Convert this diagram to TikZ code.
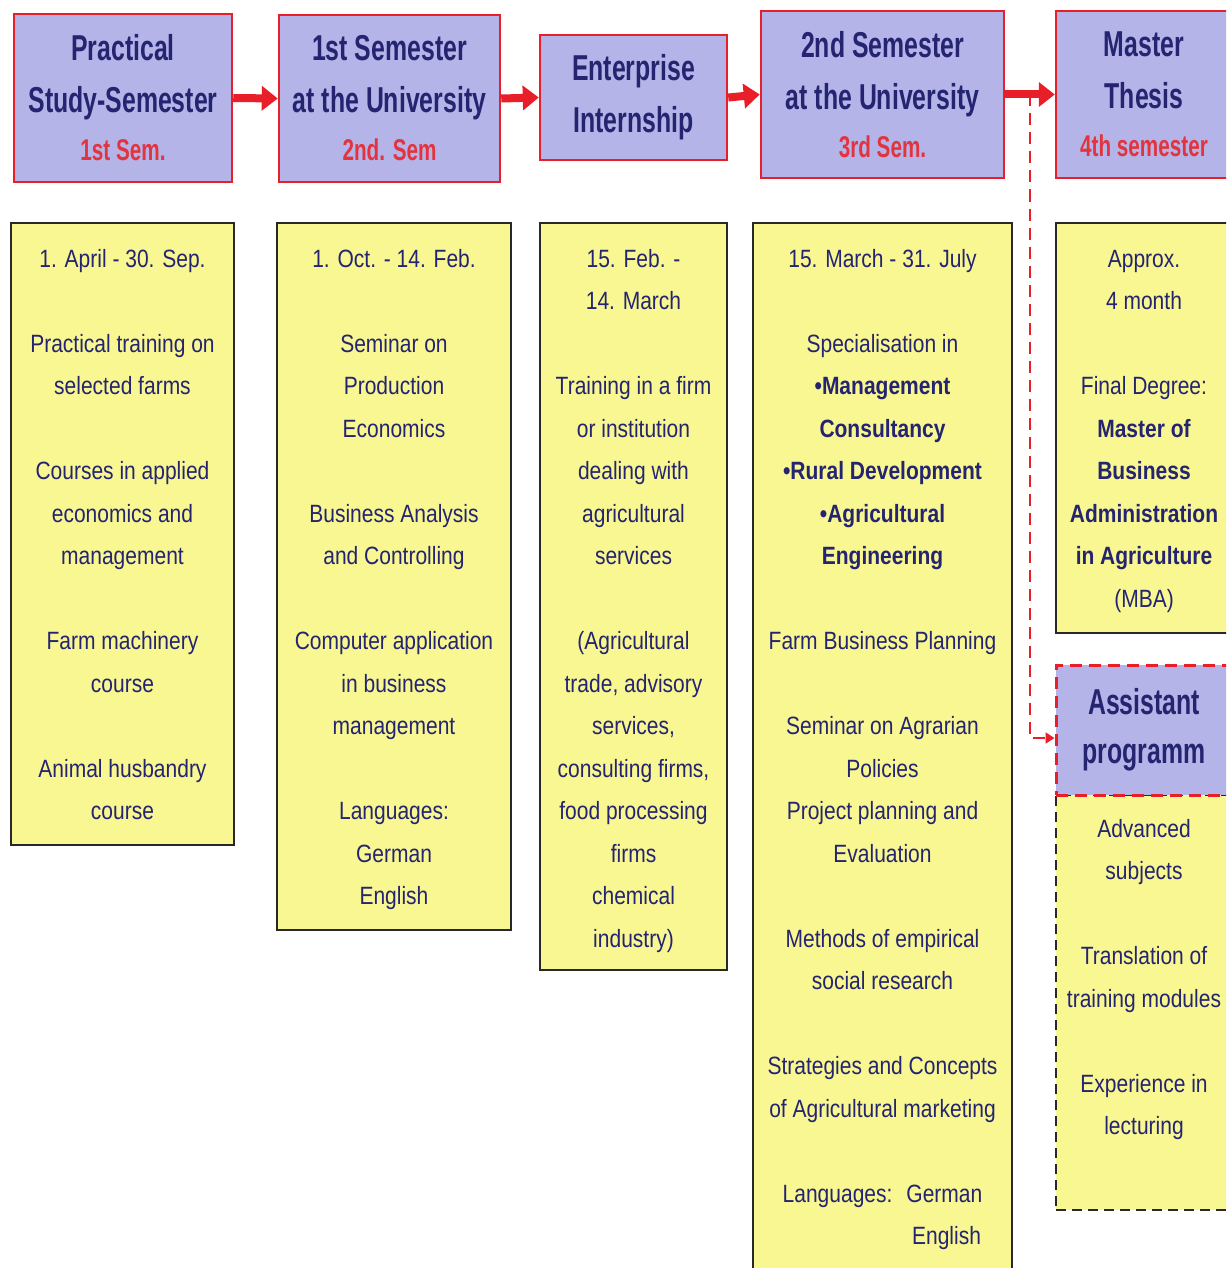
\documentclass[tikz,border=0pt]{standalone}
\usepackage{fontspec}
\setmainfont{Liberation Sans}
\newfontfamily\bodyfont{Liberation Sans}[FakeStretch=0.84]
\newfontfamily\headfont{Liberation Sans}[FakeStretch=0.69]
\usetikzlibrary{arrows.meta,calc}
\definecolor{lav}{RGB}{180,180,232}
\definecolor{yel}{RGB}{248,247,146}
\definecolor{hred}{RGB}{232,30,40}
\definecolor{navy}{RGB}{36,36,112}
\definecolor{subred}{RGB}{226,52,62}
\definecolor{bord}{RGB}{40,40,40}
\begin{document}
\begin{tikzpicture}[x=1pt,y=-1pt,
  hbox/.style={draw=hred, line width=2.5pt, fill=lav, inner sep=0pt, align=center, text=navy, font=\headfont\bfseries\fontsize{36}{52}\selectfont},
  ybox/.style={draw=bord, line width=2pt, fill=yel, inner sep=0pt},
  btxt/.style={anchor=base, inner sep=0pt, align=center, text=navy, font=\bodyfont\fontsize{25}{42.5}\selectfont},
  flow/.style={draw=hred, line width=8pt, -{Triangle[length=16pt,width=24pt]}},
  branchline/.style={draw=hred, line width=2pt, dash pattern=on 12pt off 7pt, -{Triangle[length=9pt,width=11pt]}}
]
\clip (0,0) rectangle (1226,1268);
\fill[white] (0,0) rectangle (1226,1268);

% yellow content boxes
\node[ybox, minimum width=223pt, minimum height=622pt] (y1) at (122.5,534) {};
\node[ybox, minimum width=234pt, minimum height=707pt] (y2) at (394,576.5) {};
\node[ybox, minimum width=187pt, minimum height=747pt] (y3) at (633.5,596.5) {};
\node[ybox, minimum width=259pt, minimum height=1052pt] (y4) at (882.5,749) {};
\node[ybox, minimum width=176pt, minimum height=410pt] (y5) at (1144,428) {};
\node[ybox, dash pattern=on 10pt off 6pt, minimum width=176pt, minimum height=415pt] (ab) at (1144,1002.5) {};

% header boxes
\node[hbox, minimum width=218pt, minimum height=168pt] (h1) at (123,98) {Practical\\ Study-Semester\\[-4pt]{\color{subred}\fontsize{30}{36}\selectfont 1st Sem.}};
\node[hbox, minimum width=221pt, minimum height=167pt] (h2) at (389.5,98.5) {1st Semester\\ at the University\\[-4pt]{\color{subred}\fontsize{30}{36}\selectfont 2nd. Sem}};
\node[hbox, minimum width=187pt, minimum height=125pt] (h3) at (633.5,97.5) {Enterprise\\ Internship};
\node[hbox, minimum width=243pt, minimum height=167pt] (h4) at (882.5,94.5) {2nd Semester\\ at the University\\[-4pt]{\color{subred}\fontsize{30}{36}\selectfont 3rd Sem.}};
\node[hbox, minimum width=176pt, minimum height=167pt] (h5) at (1144,94.5) {Master\\ Thesis\\[-4pt]{\color{subred}\fontsize{30}{36}\selectfont 4th semester}};

% dashed branch to assistant programme
\coordinate (br) at ($(h4.east)!0.5!(h5.west)$);
\node[hbox, dash pattern=on 12pt off 7pt, line width=3pt, minimum width=176pt, minimum height=130pt] (ah) at (1144,730) {Assistant\\[-3pt]programm};
\draw[branchline] (br) |- ([yshift=-8pt]ah.west);

% flow arrows
\draw[flow] (h1.east) -- (h2.west);
\draw[flow] (h2.east) -- (h3.west);
\draw[flow] (h3.east) -- (h4.west);
\draw[flow] (h4.east) -- (h5.west);

% texts (anchored at the baseline of the last line)
\node[btxt] (t1) at (122.5,{267+13*42.5}) {1. April - 30. Sep.\\[42.5pt]
Practical training on\\ selected farms\\[42.5pt]
Courses in applied\\ economics and\\ management\\[42.5pt]
Farm machinery\\ course\\[42.5pt]
Animal husbandry\\ course};

\node[btxt] (t2) at (394,{267+15*42.5}) {1. Oct. - 14. Feb.\\[42.5pt]
Seminar on\\ Production\\ Economics\\[42.5pt]
Business Analysis\\ and Controlling\\[42.5pt]
Computer application\\ in business\\ management\\[42.5pt]
Languages:\\ German\\ English};

\node[btxt] (t3) at (633.5,{267+16*42.5}) {15. Feb. -\\ 14. March\\[42.5pt]
Training in a firm\\ or institution\\ dealing with\\ agricultural\\ services\\[42.5pt]
(Agricultural\\ trade, advisory\\ services,\\ consulting firms,\\ food processing\\ firms\\ chemical\\ industry)};

\node[btxt] (t4) at (882.5,{267+23*42.5}) {15. March - 31. July\\[42.5pt]
Specialisation in\\ \textbf{•Management}\\ \textbf{Consultancy}\\ \textbf{•Rural Development}\\ \textbf{•Agricultural}\\ \textbf{Engineering}\\[42.5pt]
Farm Business Planning\\[42.5pt]
Seminar on Agrarian\\ Policies\\ Project planning and\\ Evaluation\\[42.5pt]
Methods of empirical\\ social research\\[42.5pt]
Strategies and Concepts\\ of Agricultural marketing\\[42.5pt]
Languages:\hspace{14pt}German\\ \hspace*{128pt}English};

\node[btxt] (t5) at (1144,{267+8*42.5}) {Approx.\\ 4 month\\[42.5pt]
Final Degree:\\ \textbf{Master of}\\ \textbf{Business}\\ \textbf{Administration}\\ \textbf{in Agriculture}\\ (MBA)};

\node[btxt] (t6) at (1144,{837+7*42.5}) {Advanced\\ subjects\\[42.5pt]
Translation of\\ training modules\\[42.5pt]
Experience in\\ lecturing};
\end{tikzpicture}
\end{document}
